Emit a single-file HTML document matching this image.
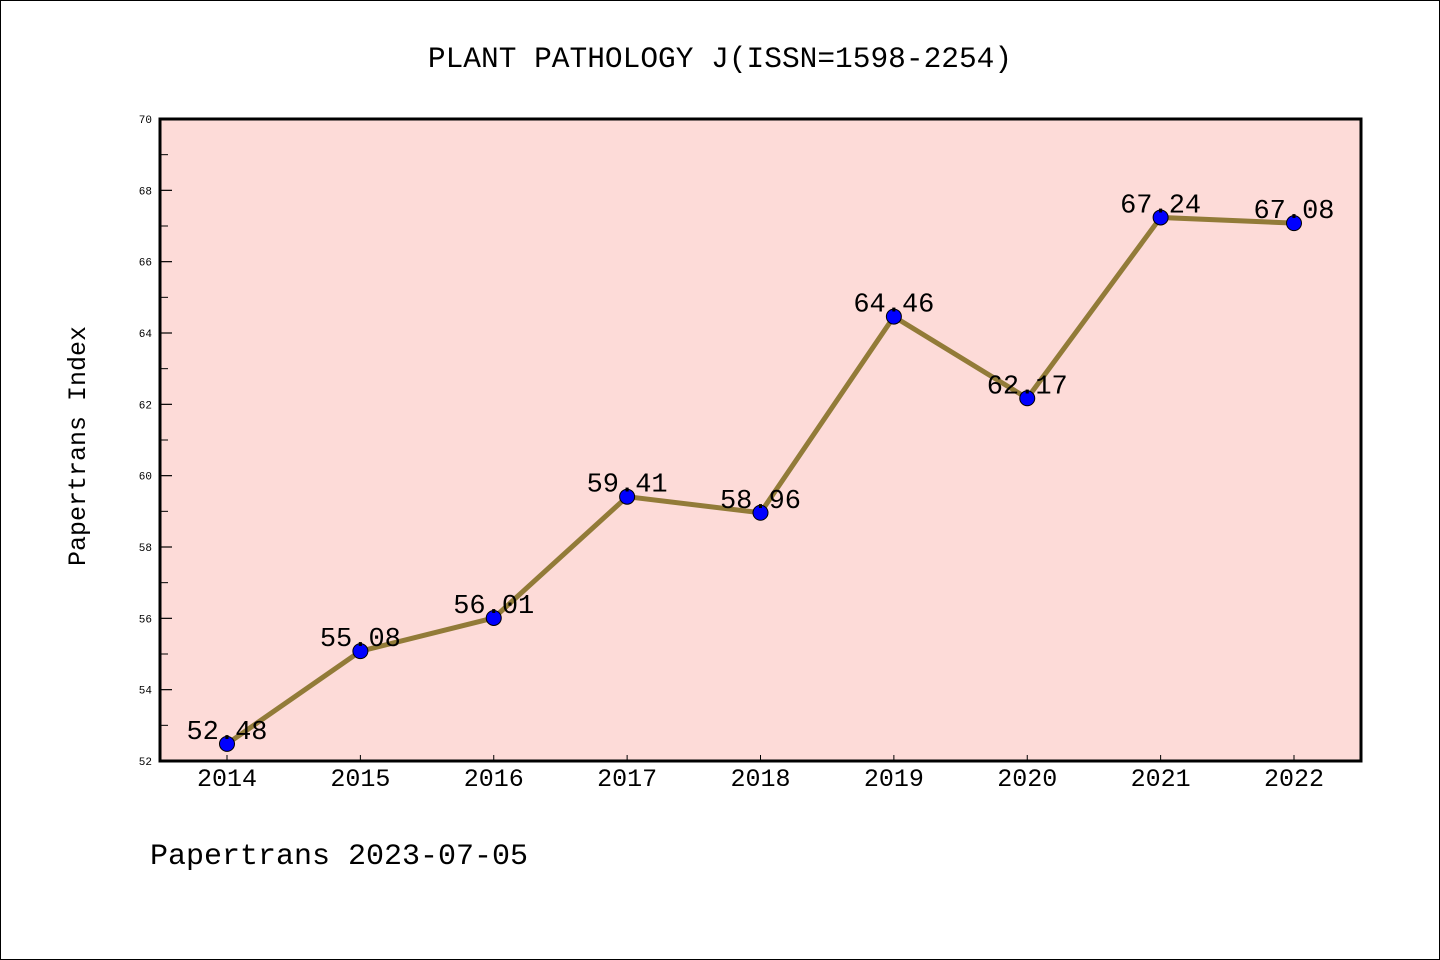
<!DOCTYPE html>
<html><head><meta charset="utf-8"><style>
html,body{margin:0;padding:0;background:#fff}
svg{display:block}
text{font-family:"Liberation Mono","WenQuanYi Zen Hei",monospace}
</style></head><body>
<svg id="chart" width="1440" height="960" xmlns="http://www.w3.org/2000/svg">
<rect x="0.5" y="0.5" width="1439" height="959" fill="#fff" stroke="#000"/>
<text x="720" y="67" font-size="29.5" text-anchor="middle">PLANT PATHOLOGY J(ISSN=1598-2254)</text>
<rect x="160" y="119" width="1201" height="642" fill="#fddbd8"/>
<g id="yaxis"></g>
<g id="xaxis"></g>
<g id="series"></g>
<rect x="160" y="119" width="1201" height="642" fill="none" stroke="#000" stroke-width="3"/>
<text transform="translate(85,446) rotate(-90)" font-size="25" text-anchor="middle">Papertrans Index</text>
<text x="150" y="864" font-size="30">Papertrans 2023-07-05</text>
</svg>
<script>
const categories=["2014","2015","2016","2017","2018","2019","2020","2021","2022"];
const values=[52.48,55.08,56.01,59.41,58.96,64.46,62.17,67.24,67.08];
const labels=["52.48","55.08","56.01","59.41","58.96","64.46","62.17","67.24","67.08"];
const yTicks=[52,54,56,58,60,62,64,66,68,70];
const NS="http://www.w3.org/2000/svg";
const yMin=52,yMax=70,plotTop=119,plotBot=761;
function y(v){return plotBot-(v-yMin)/(yMax-yMin)*(plotBot-plotTop);}
function x(i){return 227+i*(1294-227)/(categories.length-1);}
function mk(tag,attrs,parent){const e=document.createElementNS(NS,tag);for(const k in attrs)e.setAttribute(k,attrs[k]);parent.appendChild(e);return e;}
const ya=document.getElementById('yaxis'),xa=document.getElementById('xaxis'),se=document.getElementById('series');
yTicks.forEach((t,i)=>{
  const l=mk('line',{x1:160,x2:172,y1:y(t),y2:y(t),stroke:'#000','stroke-width':1.2},ya);
  
  
  const tx=mk('text',{x:152,y:y(t)+4,'font-size':11,'text-anchor':'end'},ya);
  tx.textContent=t;
  
  
  if(i<yTicks.length-1){
    const m=mk('line',{x1:160,x2:168,y1:y(t+1),y2:y(t+1),stroke:'#000','stroke-width':1},ya);
    
    
  }
});
categories.forEach((c,i)=>{
  const l=mk('line',{x1:x(i),x2:x(i),y1:plotBot,y2:plotBot-6,stroke:'#000','stroke-width':1},xa);
  
  
  const tx=mk('text',{x:x(i),y:786,'font-size':25,'text-anchor':'middle'},xa);
  tx.textContent=c;
  
  
});
const pl=mk('polyline',{points:values.map((v,i)=>x(i)+','+y(v)).join(' '),fill:'none',stroke:'#927b38','stroke-width':5},se);


values.forEach((v,i)=>{
  const c=mk('circle',{cx:x(i),cy:y(v),r:7.5,fill:'#0000ff',stroke:'#000','stroke-width':1},se);
  
  
});
values.forEach((v,i)=>{
  const t=mk('text',{x:x(i),y:y(v)-5,'font-size':27,'text-anchor':'middle'},se);
  t.textContent=labels[i];
  
  
});
</script>
</body></html>
